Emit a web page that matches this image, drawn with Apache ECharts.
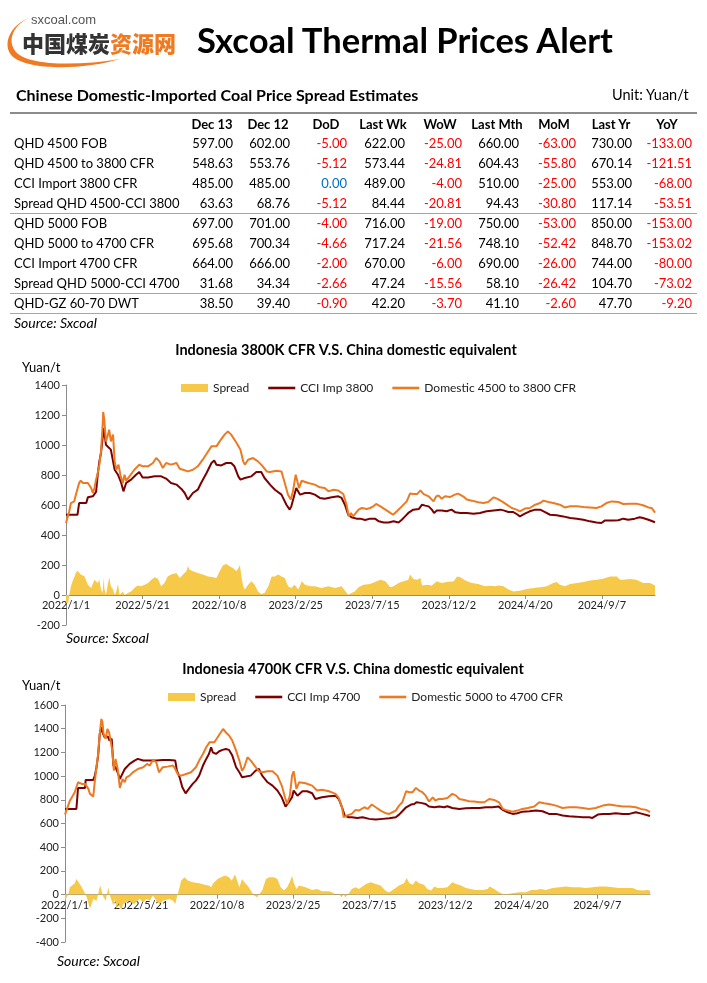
<!DOCTYPE html>
<html>
<head>
<meta charset="utf-8">
<script src="https://cdn.jsdelivr.net/npm/echarts@6/dist/echarts.min.js"></script>
<style>
    html, body { margin: 0; padding: 0; background: #fff; }
    #page { position: relative; width: 707px; height: 983px; overflow: hidden; font-family: Lato, 'Open Sans', sans-serif; color: #000; }
    #main { position: absolute; left: 0; top: 0; width: 707px; height: 983px; }
    .abs { position: absolute; white-space: nowrap; }
    .hline { position: absolute; left: 10px; width: 687px; background: #a6a6a6; height: 1px; }
    .cell { position: absolute; white-space: nowrap; font-size: 13px; line-height: 16px; }
</style>
</head>
<body>
<div id="page">
    <div id="main"></div>
    <svg class="abs" style="left:0;top:0" width="200" height="80" viewBox="0 0 200 80">
        <path d="M31 17 C 14 24, 6 40, 16 52 C 28 66, 78 66, 120 59 C 84 70, 28 71, 12 56 C 2 45, 9 25, 31 17 Z" fill="#f07a22"/>
        <text x="31" y="24" font-family="Liberation Sans, Arial, sans-serif" font-size="13" fill="#555">sxcoal.com</text>
        <text x="22" y="52" font-family="Noto Sans CJK SC" font-weight="900" font-size="22" fill="#333">中国煤炭<tspan fill="#f07a22">资源网</tspan></text>
    </svg>
    <div class="abs" style="left:197px;top:18px;font-size:34.5px;font-weight:bold;line-height:44px;">Sxcoal Thermal Prices Alert</div>
    <div class="abs" style="left:16px;top:86px;font-size:16px;font-weight:bold;line-height:18px;">Chinese Domestic-Imported Coal Price Spread Estimates</div>
    <div class="abs" style="left:612px;top:86px;font-size:14.5px;line-height:18px;">Unit: Yuan/t</div>
    <div id="table"></div>
</div>
<script>
    // table
    var colHeads = ['Dec 13', 'Dec 12', 'DoD', 'Last Wk', 'WoW', 'Last Mth', 'MoM', 'Last Yr', 'YoY'];
    var rowNames = ['QHD 4500 FOB', 'QHD 4500 to 3800 CFR', 'CCI Import 3800 CFR', 'Spread QHD 4500-CCI 3800',
        'QHD 5000 FOB', 'QHD 5000 to 4700 CFR', 'CCI Import 4700 CFR', 'Spread QHD 5000-CCI 4700', 'QHD-GZ 60-70 DWT'];
    var tableRows = [
        [597.00, 602.00, -5.00, 622.00, -25.00, 660.00, -63.00, 730.00, -133.00],
        [548.63, 553.76, -5.12, 573.44, -24.81, 604.43, -55.80, 670.14, -121.51],
        [485.00, 485.00, 0.00, 489.00, -4.00, 510.00, -25.00, 553.00, -68.00],
        [63.63, 68.76, -5.12, 84.44, -20.81, 94.43, -30.80, 117.14, -53.51],
        [697.00, 701.00, -4.00, 716.00, -19.00, 750.00, -53.00, 850.00, -153.00],
        [695.68, 700.34, -4.66, 717.24, -21.56, 748.10, -52.42, 848.70, -153.02],
        [664.00, 666.00, -2.00, 670.00, -6.00, 690.00, -26.00, 744.00, -80.00],
        [31.68, 34.34, -2.66, 47.24, -15.56, 58.10, -26.42, 104.70, -73.02],
        [38.50, 39.40, -0.90, 42.20, -3.70, 41.10, -2.60, 47.70, -9.20]
    ];

    // chart series, [days since 2022/1/1, Yuan/t]
    var spread3800 = [[0,-53],[4,-53],[6,0],[9,58],[12,91],[18,147],[21,162],[24,169],[27,136],[34,124],[40,69],[46,47],[52,102],[55,113],[58,80],[61,102],[64,36],[67,13],[69,118],[70,47],[73,2],[76,13],[79,118],[82,58],[86,36],[89,2],[92,24],[95,73],[98,2],[101,13],[104,24],[107,0],[113,13],[119,24],[125,47],[131,64],[137,58],[144,69],[150,80],[156,102],[162,118],[168,109],[174,58],[180,80],[186,124],[192,136],[202,147],[208,113],[214,136],[220,158],[223,191],[226,169],[232,158],[241,147],[250,136],[260,124],[269,118],[275,113],[281,158],[287,198],[293,207],[299,191],[305,180],[312,158],[318,198],[321,118],[324,58],[327,36],[333,69],[339,91],[345,69],[351,24],[357,7],[363,13],[370,58],[376,124],[382,124],[388,136],[394,124],[400,113],[406,58],[412,47],[418,69],[425,36],[431,91],[437,69],[446,58],[455,58],[467,47],[480,58],[492,47],[504,58],[510,29],[516,2],[522,13],[528,24],[535,51],[538,58],[544,69],[556,73],[565,87],[575,102],[584,91],[593,51],[599,58],[608,80],[617,91],[626,102],[629,136],[635,107],[642,102],[648,113],[651,64],[660,69],[669,64],[678,91],[687,80],[696,87],[709,91],[715,124],[721,118],[730,96],[742,80],[754,73],[766,58],[775,62],[785,58],[791,64],[800,58],[809,36],[818,24],[830,29],[842,40],[855,47],[867,51],[879,58],[891,80],[897,87],[903,69],[912,58],[922,73],[934,80],[946,87],[958,96],[970,102],[982,109],[995,124],[1007,124],[1013,102],[1019,102],[1031,107],[1043,102],[1055,80],[1068,80],[1077,64]];
    var cciImp3800 = [[0,535],[21,535],[24,613],[37,613],[40,651],[49,658],[52,669],[55,687],[58,802],[61,891],[64,947],[67,1047],[69,1113],[73,1002],[82,969],[89,835],[95,802],[101,747],[105,691],[110,747],[119,769],[128,802],[134,820],[140,784],[150,784],[162,791],[174,791],[183,776],[192,747],[202,736],[211,707],[217,680],[223,636],[232,680],[241,702],[247,747],[257,813],[266,880],[271,896],[275,869],[284,864],[293,880],[302,880],[308,858],[315,791],[319,769],[327,780],[339,791],[348,820],[357,820],[363,780],[373,736],[382,702],[394,669],[403,602],[409,569],[412,591],[421,713],[428,669],[437,680],[446,680],[455,669],[464,647],[473,642],[486,651],[498,658],[504,647],[510,602],[516,535],[522,518],[531,509],[538,509],[547,500],[556,509],[565,509],[572,491],[581,484],[590,484],[599,491],[608,484],[614,502],[620,524],[626,547],[635,569],[645,573],[651,602],[657,596],[663,591],[669,569],[673,547],[678,564],[687,564],[696,558],[705,569],[712,551],[721,547],[733,547],[745,542],[757,547],[769,558],[782,564],[794,569],[800,564],[809,553],[818,553],[824,540],[830,524],[839,542],[848,558],[858,569],[867,569],[876,553],[885,535],[897,531],[909,524],[922,513],[934,509],[946,502],[958,491],[970,484],[979,480],[985,496],[1001,496],[1010,498],[1019,509],[1028,502],[1040,509],[1049,518],[1055,513],[1065,502],[1077,485]];
    var dom3800 = [[0,480],[3,480],[6,558],[9,613],[15,624],[18,669],[24,747],[27,762],[31,747],[40,747],[46,713],[49,680],[52,713],[55,769],[58,813],[61,869],[64,958],[67,1135],[68,1220],[70,1169],[73,1024],[76,1058],[79,1102],[82,1024],[86,1069],[89,891],[92,835],[96,869],[100,791],[104,747],[107,802],[110,762],[116,791],[125,835],[134,869],[140,858],[150,858],[159,880],[165,913],[171,891],[177,847],[183,880],[192,869],[202,880],[208,842],[214,835],[223,824],[232,835],[241,858],[250,902],[260,958],[266,991],[275,991],[281,1024],[290,1069],[296,1091],[302,1069],[312,1013],[319,969],[324,891],[327,869],[333,902],[342,913],[351,891],[357,869],[367,824],[373,820],[385,829],[394,824],[400,747],[406,669],[411,636],[415,691],[420,802],[423,813],[426,713],[431,762],[443,747],[455,736],[464,718],[473,713],[480,691],[489,702],[498,696],[507,673],[513,602],[517,524],[521,547],[525,524],[535,569],[541,580],[550,573],[556,580],[562,591],[567,607],[575,591],[584,569],[593,547],[598,535],[605,558],[614,591],[623,624],[629,676],[635,673],[642,673],[648,698],[654,673],[663,658],[672,624],[677,658],[681,664],[687,642],[693,658],[702,653],[711,669],[717,676],[726,658],[733,636],[742,629],[754,618],[763,613],[772,620],[782,651],[788,642],[797,624],[806,602],[815,580],[824,569],[830,558],[839,576],[848,580],[858,602],[867,613],[873,629],[882,620],[891,613],[903,602],[912,584],[922,591],[934,591],[946,587],[958,584],[970,580],[979,591],[988,613],[998,624],[1010,620],[1019,607],[1031,609],[1043,609],[1055,598],[1065,584],[1071,580],[1077,549]];

    var spread4700 = [[0,-51],[3,-37],[6,0],[9,62],[18,96],[21,132],[24,118],[29,76],[34,34],[40,-23],[46,-120],[49,-80],[52,-37],[55,-23],[58,-51],[61,0],[63,48],[65,76],[68,20],[71,-23],[75,-51],[78,20],[80,62],[82,0],[86,-51],[89,-93],[92,-37],[95,-121],[98,-73],[101,-107],[104,-130],[107,-79],[113,-65],[119,-51],[125,-79],[131,-65],[137,-37],[144,-65],[150,-37],[156,-51],[162,-8],[168,-51],[174,-79],[180,-51],[186,-45],[192,-37],[199,-51],[203,-79],[206,-23],[210,48],[214,118],[220,146],[226,118],[235,104],[247,96],[257,84],[265,76],[269,62],[273,96],[281,132],[290,152],[296,160],[302,146],[307,118],[313,169],[318,104],[321,62],[326,132],[330,104],[336,76],[342,34],[348,-8],[354,-23],[357,0],[363,34],[370,132],[376,146],[385,146],[391,132],[397,62],[403,34],[409,62],[415,118],[418,160],[421,104],[426,48],[431,76],[443,62],[455,39],[464,48],[473,28],[486,28],[492,20],[498,0],[504,6],[509,-23],[513,0],[516,-23],[522,6],[528,48],[535,62],[541,48],[554,90],[563,104],[572,90],[581,76],[591,28],[597,20],[606,48],[615,76],[624,96],[629,141],[634,96],[640,84],[646,118],[652,96],[661,84],[667,48],[674,34],[680,68],[686,56],[695,56],[704,62],[713,104],[720,90],[729,76],[738,56],[747,48],[756,39],[769,39],[778,48],[782,68],[790,48],[799,20],[806,6],[815,6],[824,11],[836,20],[849,20],[858,39],[867,39],[876,48],[885,39],[898,56],[910,62],[922,68],[934,62],[947,62],[959,56],[971,62],[984,68],[996,68],[1008,62],[1020,56],[1033,56],[1045,56],[1054,39],[1063,34],[1073,39],[1077,32]];
    var cciImp4700 = [[0,723],[21,723],[24,900],[37,900],[38,968],[52,968],[55,1004],[58,1075],[61,1173],[64,1356],[67,1412],[70,1356],[73,1328],[79,1333],[82,1300],[86,1314],[89,1089],[93,1075],[98,1018],[101,976],[104,1004],[110,1060],[119,1103],[128,1131],[134,1145],[144,1131],[156,1131],[168,1131],[180,1136],[192,1136],[203,1131],[206,1046],[211,990],[216,906],[222,855],[228,892],[235,934],[241,962],[247,1004],[254,1089],[260,1145],[265,1187],[269,1243],[272,1201],[278,1187],[284,1210],[290,1221],[296,1229],[302,1221],[308,1173],[315,1075],[321,1032],[326,990],[333,996],[342,1004],[351,1046],[357,1060],[363,1004],[373,948],[382,920],[391,878],[399,821],[406,743],[412,780],[418,821],[421,878],[428,835],[437,872],[446,872],[455,855],[461,807],[473,821],[486,830],[498,835],[504,807],[510,737],[515,667],[522,653],[528,653],[538,647],[548,653],[560,639],[572,633],[585,639],[597,644],[609,653],[615,675],[621,703],[628,737],[637,760],[643,765],[647,779],[655,774],[664,765],[670,743],[680,737],[689,743],[698,737],[704,745],[713,731],[726,723],[738,728],[750,731],[763,731],[775,737],[787,737],[798,743],[806,715],[815,695],[824,681],[833,686],[842,700],[855,703],[867,709],[879,703],[891,681],[904,681],[916,667],[928,661],[941,658],[953,653],[965,653],[971,647],[981,675],[990,681],[1002,681],[1014,686],[1027,681],[1039,681],[1051,695],[1063,681],[1077,664]];
    var dom4700 = [[0,675],[3,681],[9,793],[18,864],[24,948],[31,934],[37,934],[43,892],[46,850],[49,835],[52,827],[55,962],[58,1075],[61,1187],[64,1356],[67,1482],[69,1454],[71,1356],[75,1314],[78,1398],[81,1370],[84,1300],[87,1215],[90,1046],[93,1145],[97,1060],[101,900],[106,976],[110,948],[113,990],[119,1004],[125,1032],[134,1060],[144,1075],[151,1103],[156,1089],[162,1136],[168,1117],[173,1032],[180,1075],[189,1080],[199,1089],[203,1060],[208,1013],[214,1004],[223,1018],[232,1032],[241,1075],[247,1131],[254,1187],[260,1243],[266,1285],[275,1285],[281,1328],[287,1370],[291,1398],[296,1370],[302,1342],[308,1300],[315,1215],[321,1131],[326,1046],[330,1075],[336,1159],[342,1131],[351,1075],[357,1041],[363,1032],[373,1041],[382,1041],[391,1004],[399,920],[405,821],[409,765],[414,835],[418,1004],[421,1041],[426,892],[431,948],[443,940],[455,920],[464,878],[473,884],[486,872],[498,850],[504,816],[510,737],[513,653],[519,667],[528,681],[535,715],[541,709],[551,737],[557,723],[565,760],[572,737],[581,709],[591,686],[597,681],[603,695],[609,709],[615,751],[621,779],[628,872],[634,864],[640,864],[646,900],[652,878],[658,864],[664,835],[670,785],[677,821],[682,793],[688,807],[695,807],[704,816],[713,850],[720,835],[726,807],[735,799],[744,788],[753,785],[763,779],[772,779],[781,807],[790,799],[799,779],[806,723],[815,709],[824,700],[833,709],[842,723],[852,731],[864,743],[873,779],[882,771],[891,765],[904,751],[916,731],[928,737],[941,737],[953,731],[965,723],[977,731],[990,751],[1002,760],[1014,751],[1027,743],[1039,743],[1051,737],[1060,723],[1070,715],[1077,696]];

    var xTickDays = [0, 140, 280, 420, 560, 700, 840, 980];

    // build the table
    var colRight = [233, 290, 347, 405, 462, 519, 576, 632, 692];
    var headCenter = [212, 268, 326, 383, 440, 497, 554, 611, 667];
    var tbl = document.getElementById('table');
    function add(html, style, cls) {
        var d = document.createElement('div');
        d.className = cls || 'cell';
        d.setAttribute('style', style);
        d.innerHTML = html;
        tbl.appendChild(d);
    }
    add('', 'top:112px;height:2px;background:#8c8c8c;', 'hline');
    add('', 'top:213px;', 'hline');
    add('', 'top:293px;', 'hline');
    add('', 'top:313px;', 'hline');
    colHeads.forEach(function (h, i) {
        add(h, 'left:' + (headCenter[i] - 40) + 'px;width:80px;text-align:center;top:116px;font-weight:bold;');
    });
    rowNames.forEach(function (name, r) {
        var y = 135 + r * 20;
        add(name, 'left:14px;top:' + y + 'px;');
        tableRows[r].forEach(function (v, c) {
            var col = '#000';
            if (c % 2 === 0 && c > 0) {
                col = v < 0 ? '#ff0000' : (v === 0 ? '#0070c0' : '#000');
            }
            add(v.toFixed(2), 'left:' + (colRight[c] - 70) + 'px;width:70px;text-align:right;top:' + y + 'px;color:' + col + ';');
        });
    });
    add('Source: Sxcoal', 'left:14px;top:315px;font-style:italic;font-size:14px;');

    // charts
    var base = Date.UTC(2022, 0, 1);
    function dayLabel(d) {
        var t = new Date(base + d * 86400000);
        return t.getUTCFullYear() + '/' + (t.getUTCMonth() + 1) + '/' + t.getUTCDate();
    }
    var axisCol = '#8c8c8c';
    var lblStyle = { color: '#222', fontSize: 11, fontFamily: 'Lato' };
    var cYellow = '#f7c948', cRed = '#7b0000', cOrange = '#ec7a22';
    var lineIcon = 'path://M0 0H27V2.6H0Z';

    // x axis sits on the zero line: shifted up from the grid bottom
    function xAxis(gi, shift) {
        return {
            type: 'value', gridIndex: gi, min: 0, max: 1077, interval: 140,
            position: 'bottom', offset: -shift,
            axisLine: { onZero: false, lineStyle: { color: axisCol } },
            axisTick: { show: true, length: 4, lineStyle: { color: axisCol }, customValues: xTickDays },
            axisLabel: Object.assign({ margin: 5, customValues: xTickDays, formatter: function (v) { return dayLabel(v); } }, lblStyle),
            splitLine: { show: false }
        };
    }
    function yAxis(gi, mn, mx) {
        return {
            type: 'value', gridIndex: gi, min: mn, max: mx, interval: 200,
            axisLine: { show: true, onZero: false, lineStyle: { color: axisCol } },
            axisTick: { show: true, length: 4, lineStyle: { color: axisCol } },
            axisLabel: Object.assign({ margin: 6, formatter: function (v) { return String(v); } }, lblStyle),
            splitLine: { show: false }
        };
    }
    function spreadSeries(idx, data) {
        return {
            name: 'Spread', type: 'line', xAxisIndex: idx, yAxisIndex: idx, data: data,
            symbol: 'none', lineStyle: { width: 0, opacity: 0 },
            itemStyle: { color: cYellow }, areaStyle: { color: cYellow, opacity: 1 }
        };
    }
    function lineSeries(idx, name, data, color) {
        return {
            name: name, type: 'line', xAxisIndex: idx, yAxisIndex: idx, data: data,
            symbol: 'none', lineStyle: { width: 2, color: color }, itemStyle: { color: color }
        };
    }
    function txt(x, y, s, font, align) {
        return { type: 'text', x: x, y: y, style: { text: s, font: font, fill: '#000', textAlign: align || 'left', textVerticalAlign: 'middle' } };
    }
    var legendText = { fontSize: 12, fontFamily: 'Lato', color: '#222' };

    var myChart = echarts.init(document.getElementById('main'));
    myChart.setOption({
        animation: false,
        grid: [
            { left: 66, right: 52, top: 385, bottom: 358, outerBoundsMode: 'none' },
            { left: 65, right: 57, top: 705, bottom: 41, outerBoundsMode: 'none' }
        ],
        xAxis: [xAxis(0, 30), xAxis(1, 47.4)],
        yAxis: [yAxis(0, -200, 1400), yAxis(1, -400, 1600)],
        legend: [
            {
                left: 176, top: 377, itemWidth: 27, itemHeight: 8, itemGap: 19,
                textStyle: legendText,
                data: [{ name: 'Spread', icon: 'rect' }, { name: 'CCI Imp 3800', icon: lineIcon }, { name: 'Domestic 4500 to 3800 CFR', icon: lineIcon }]
            },
            {
                left: 163, top: 686, itemWidth: 27, itemHeight: 8, itemGap: 19,
                textStyle: legendText,
                data: [{ name: 'Spread', icon: 'rect' }, { name: 'CCI Imp 4700', icon: lineIcon }, { name: 'Domestic 5000 to 4700 CFR', icon: lineIcon }]
            }
        ],
        graphic: [
            txt(346, 350, 'Indonesia 3800K CFR V.S. China domestic equivalent', 'bold 14.5px Lato', 'center'),
            txt(22, 368, 'Yuan/t', '13px Lato'),
            txt(66, 638, 'Source: Sxcoal', 'italic 14px Lato'),
            txt(353, 669, 'Indonesia 4700K CFR V.S. China domestic equivalent', 'bold 14.5px Lato', 'center'),
            txt(22, 686, 'Yuan/t', '13px Lato'),
            txt(57, 961, 'Source: Sxcoal', 'italic 14px Lato')
        ],
        series: [
            spreadSeries(0, spread3800),
            lineSeries(0, 'CCI Imp 3800', cciImp3800, cRed),
            lineSeries(0, 'Domestic 4500 to 3800 CFR', dom3800, cOrange),
            spreadSeries(1, spread4700),
            lineSeries(1, 'CCI Imp 4700', cciImp4700, cRed),
            lineSeries(1, 'Domestic 5000 to 4700 CFR', dom4700, cOrange)
        ]
    });
</script>
</body>
</html>
